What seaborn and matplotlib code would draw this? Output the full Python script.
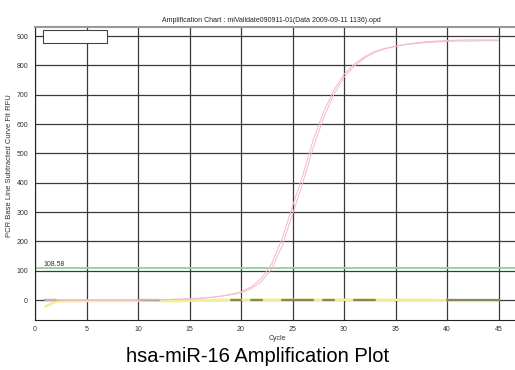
import numpy as np
import pandas as pd
import matplotlib
matplotlib.use("Agg")
import matplotlib.pyplot as plt
import seaborn as sns
from matplotlib.patches import Rectangle

cycles = list(range(1, 46))
rep_a = [0, 0, 0, 0, 0, 0, 0, 0, 0, 0, 1, 1, 2, 3, 4, 6, 9, 13, 19, 28,
         45, 75, 125, 210, 320, 425, 545, 640, 715, 770, 805, 830, 848, 858,
         865, 871, 875, 878, 880, 882, 883, 883, 884, 884, 884]
rep_b = [0, 0, 0, 0, 0, 0, 0, 0, 0, 0, 1, 1, 2, 3, 4, 6, 9, 13, 18, 25,
         39, 64, 108, 185, 292, 400, 518, 620, 700, 760, 798, 825, 845, 857,
         865, 872, 877, 881, 883, 885, 886, 887, 887, 887, 887]
yellow = [-22, -6, -4, -4, -3, -3, -3, -3, -3, -2, -2, -3, -4, -4, -2, 0, 0, 1,
          1, 1, 1, 1, 1, 1, 1, 1, 1, 1, 1, 1, 1, 1, 1, 1, 1, 1, 1, 1, 0, 0,
          -1, -1, -1, -1, -1]
olive_cycles = [1, 2, 10, 11, 12, 19, 20, 21, 22, 24, 25, 26, 27, 28, 29,
                31, 32, 33, 40, 41, 42, 43, 44, 45]
olive_values = [0, 0, 0, 0, 0, 0, 0, 0, 0, 0, 0, 0, 0, 0, 0,
                0, 0, 0, 0, 0, 0, 0, 0, 0]
olive_segment = [1, 1, 2, 2, 2, 3, 3, 4, 4, 5, 5, 5, 5, 6, 6,
                 7, 7, 7, 8, 8, 8, 8, 8, 8]
threshold = 108.58
threshold_label = "108.58"
title = "Amplification Chart : miValidate090911-01(Data 2009-09-11 1136).opd"
ylabel = "PCR Base Line Subtracted Curve Fit RFU"
xlabel = "Cycle"
caption = "hsa-miR-16 Amplification Plot"
xticks = [0, 5, 10, 15, 20, 25, 30, 35, 40, 45]
yticks = [0, 100, 200, 300, 400, 500, 600, 700, 800, 900]

sns.set_style("white")
plt.rcParams['font.family'] = ['Liberation Sans', 'DejaVu Sans']

fig = plt.figure(figsize=(5.15, 3.7), dpi=100)
ax = fig.add_axes([35/515, 1-320/370, 480/515, 293/370])

df = pd.DataFrame({"cycle": cycles, "A": rep_a, "B": rep_b, "Y": yellow})
dfo = pd.DataFrame({"cycle": olive_cycles, "O": olive_values, "seg": olive_segment})

# grid
for x in xticks:
    ax.axvline(x, color="#3a3a3a", lw=0.9, zorder=1)
for y in yticks:
    ax.axhline(y, color="#3a3a3a", lw=0.9, zorder=1)
ax.axhline(threshold, color="#9ad49a", lw=1.4, zorder=2)

sns.lineplot(data=df, x="cycle", y="Y", ax=ax, color="#f3ec9a", linewidth=1.8, zorder=3)
sns.lineplot(data=dfo, x="cycle", y="O", units="seg", estimator=None, ax=ax,
             color="#8a8755", linewidth=1.6, zorder=4)
sns.lineplot(data=df, x="cycle", y="A", ax=ax, color="#f5b8c6", linewidth=0.7, zorder=5)
sns.lineplot(data=df, x="cycle", y="B", ax=ax, color="#f5b8c6", linewidth=0.7, zorder=5)

ax.text(0.8, threshold + 8, threshold_label, fontsize=5, color="#333333", zorder=6)

ax.set_xlim(0, 46.6)
ax.set_ylim(-68, 931)
ax.set_xticks(xticks)
ax.set_yticks(yticks)
ax.set_xticks(range(0, 47), minor=True)
ax.set_yticks(range(-60, 931, 20), minor=True)
ax.tick_params(axis="both", which="major", labelsize=5, colors="#333333", length=3, width=0.7)
ax.tick_params(axis="x", which="major", direction="in", length=0, pad=4)
ax.tick_params(axis="x", which="minor", direction="in", length=3, color="#999999", width=0.6)
ax.tick_params(axis="y", which="minor", direction="in", length=2.5, color="#bbbbbb", width=0.6)
ax.tick_params(axis="y", which="major", direction="inout", length=6, pad=2)

ax.spines["right"].set_visible(False)
ax.spines["top"].set_color("#999999")
ax.spines["top"].set_linewidth(1.5)
ax.spines["left"].set_color("#222222")
ax.spines["bottom"].set_color("#222222")
ax.spines["left"].set_linewidth(0.8)
ax.spines["bottom"].set_linewidth(0.8)

ax.set_xlabel("")
ax.set_ylabel("")
fig.text(10/515, 1-166/370, ylabel, rotation=90, fontsize=5.5, color="#333333",
         ha="center", va="center")
fig.text(277/515, 1-338/370, xlabel, fontsize=5, color="#333333", ha="center", va="center")
fig.text(271/515, 1-20/370, title, fontsize=5, color="#222222", ha="center", va="center")
fig.text(258/515, 1-356/370, caption, fontsize=14.5, color="#000000", ha="center", va="center")

ax.add_patch(Rectangle((8/480, 1-16/293), 64/480, 13/293, transform=ax.transAxes,
                       facecolor="white", edgecolor="#444444", lw=0.8, zorder=7))

fig.savefig("out.png", dpi=100, facecolor="white")
